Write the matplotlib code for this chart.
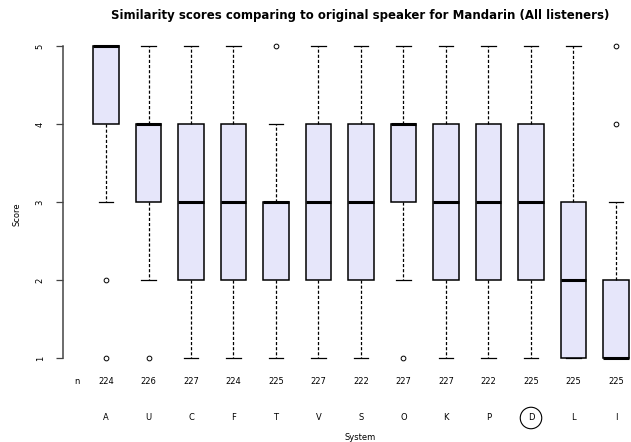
import matplotlib
matplotlib.use("Agg")
import matplotlib.pyplot as plt
from matplotlib.transforms import blended_transform_factory

# Listening-test scores per system (five-number summaries + outliers)
systems = ["A", "U", "C", "F", "T", "V", "S", "O", "K", "P", "D", "L", "I"]
n_counts = [224, 226, 227, 224, 225, 227, 222, 227, 227, 222, 225, 225, 225]
q1 = [4, 3, 2, 2, 2, 2, 2, 3, 2, 2, 2, 1, 1]
medians = [5, 4, 3, 3, 3, 3, 3, 4, 3, 3, 3, 2, 1]
q3 = [5, 4, 4, 4, 3, 4, 4, 4, 4, 4, 4, 3, 2]
whisker_low = [3, 2, 1, 1, 1, 1, 1, 2, 1, 1, 1, 1, 1]
whisker_high = [5, 5, 5, 5, 4, 5, 5, 5, 5, 5, 5, 5, 3]
outliers = [[2, 1], [1], [], [], [5], [], [], [1], [], [], [], [], [4, 5]]
y_ticks = [1, 2, 3, 4, 5]
highlighted = "D"

W, H = 631, 442
fig = plt.figure(figsize=(W / 100, H / 100), dpi=100)

# plot region in pixels (R-style 4% padding around 0.5..13.5 and 1..5)
x_lo, x_hi = -0.02, 14.02
px_per_unit = 42.5
left_px = 106 - (1 - x_lo) * px_per_unit
width_px = (x_hi - x_lo) * px_per_unit
top_px, bottom_px = 33.5, 370.5
ax = fig.add_axes([left_px / W, 1 - bottom_px / H, width_px / W, (bottom_px - top_px) / H])

positions = list(range(1, len(systems) + 1))
stats = []
for i, name in enumerate(systems):
    stats.append(dict(label=name, med=medians[i], q1=q1[i], q3=q3[i],
                      whislo=whisker_low[i], whishi=whisker_high[i],
                      fliers=outliers[i]))

ax.bxp(stats, positions=positions, widths=0.61, capwidths=0.35,
       patch_artist=True, showfliers=True,
       boxprops=dict(facecolor="#e6e6fa", edgecolor="black", linewidth=1.1),
       medianprops=dict(color="black", linewidth=2.2, solid_capstyle="butt"),
       whiskerprops=dict(color="black", linewidth=0.9, linestyle=(0, (2.5, 1.6))),
       capprops=dict(color="black", linewidth=0.9),
       flierprops=dict(marker="o", markersize=3.4, markerfacecolor="none",
                       markeredgecolor="black", markeredgewidth=0.7))

ax.set_xlim(x_lo, x_hi)
ax.set_ylim(0.84, 5.16)
for side in ("top", "right", "bottom"):
    ax.spines[side].set_visible(False)
ax.spines["left"].set_bounds(1, 5)
ax.spines["left"].set_linewidth(1.1)
ax.spines["left"].set_color("#444444")
ax.set_xticks([])
ax.set_yticks(y_ticks)
ax.set_yticklabels([str(v) for v in y_ticks], rotation=90, va="center")
ax.tick_params(axis="y", length=5, width=0.9, color="#444444", pad=8,
               labelsize=6)
ax.patch.set_alpha(0)

# sample sizes and system names below the plot
trans = blended_transform_factory(ax.transData, fig.transFigure)
row_n = 1 - 381 / H
row_lab = 1 - 418 / H
ax.text(0.31, row_n, "n", transform=trans, ha="center", va="center", fontsize=6)
for pos, name, n in zip(positions, systems, n_counts):
    ax.text(pos, row_n, str(n), transform=trans, ha="center", va="center",
            fontsize=6)
    bbox = None
    if name == highlighted:
        bbox = dict(boxstyle="circle,pad=0.75", fc="none", ec="black", lw=0.8)
    ax.text(pos, row_lab, name, transform=trans, ha="center", va="center",
            fontsize=6, bbox=bbox)

fig.text(360 / W, 1 - 437 / H, "System", ha="center", va="center", fontsize=6)
fig.text(17 / W, 1 - 214 / H, "Score", ha="center", va="center", fontsize=6,
         rotation=90)
fig.text(360 / W, 1 - 15 / H,
         "Similarity scores comparing to original speaker for Mandarin (All listeners)",
         ha="center", va="center", fontsize=8.5, fontweight="bold")

fig.savefig("out.png", dpi=100)
